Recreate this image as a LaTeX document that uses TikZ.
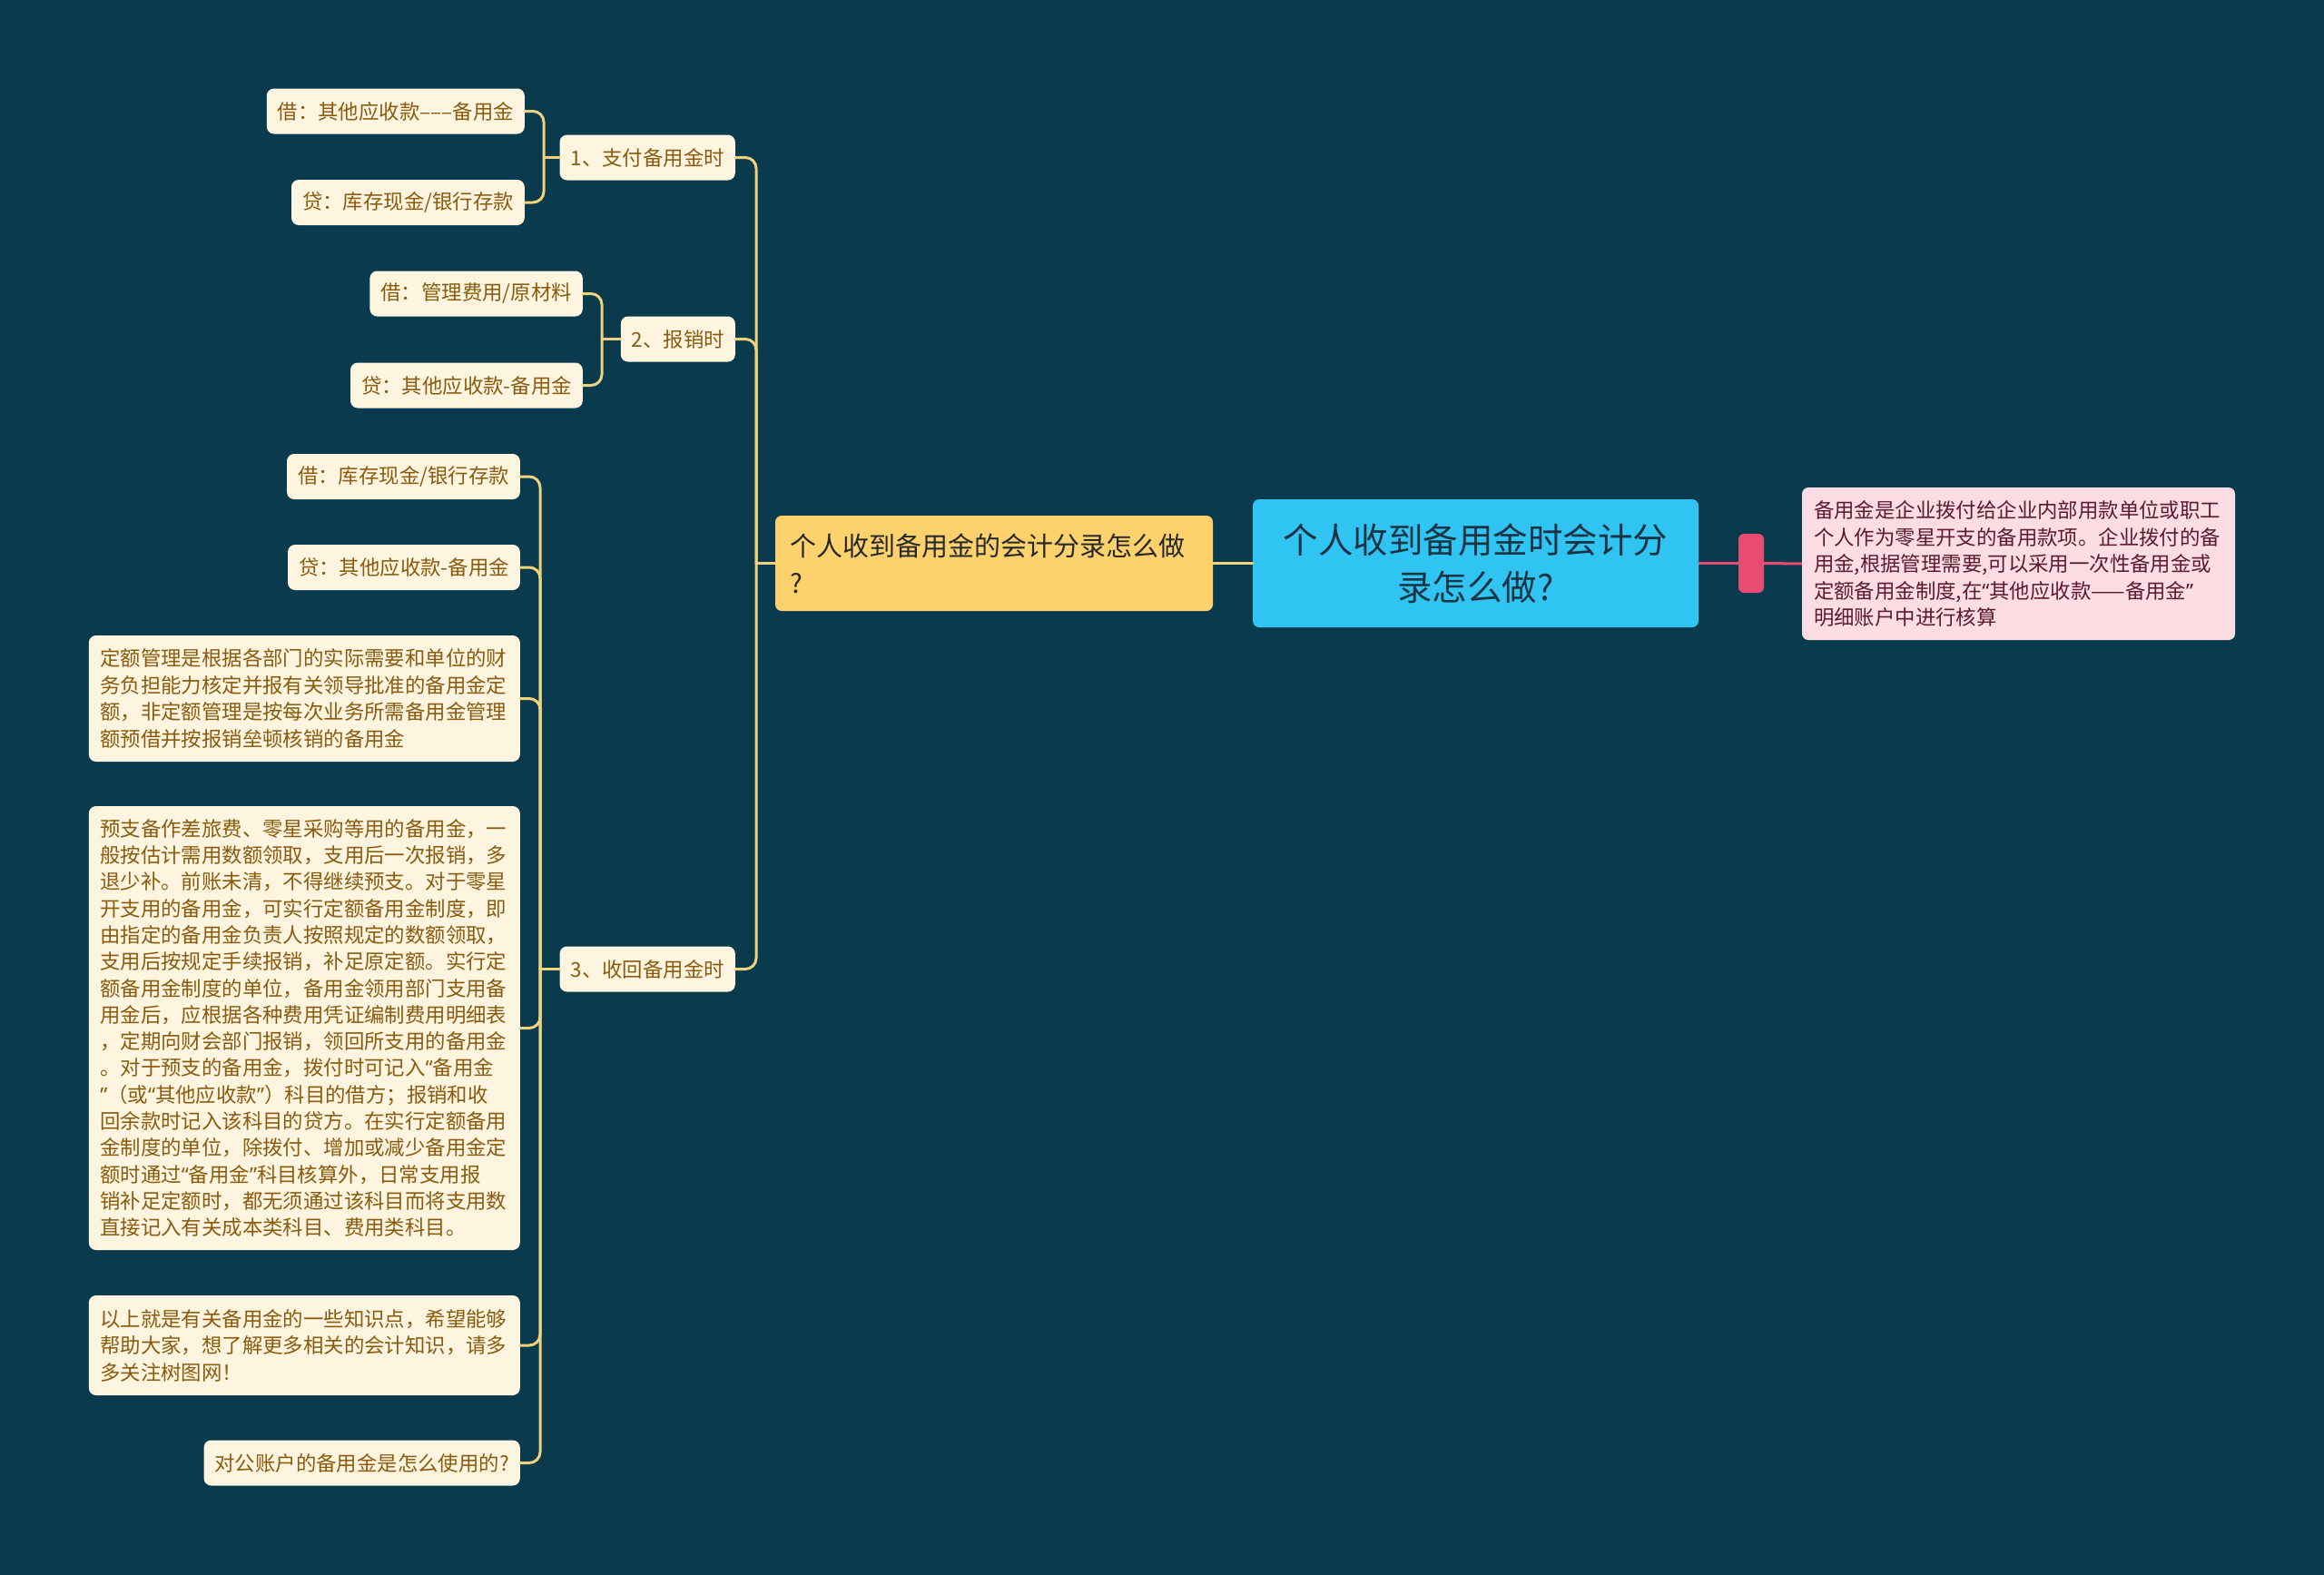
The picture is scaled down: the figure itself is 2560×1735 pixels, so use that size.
\documentclass[tikz,border=0pt]{standalone}
\usepackage{fontspec}
\setmainfont{Noto Sans CJK SC}
\newfontfamily\quotefont{Noto Sans}
\newcommand\oq{{\quotefont “}}
\newcommand\cq{{\quotefont ”}}
\definecolor{bg}{HTML}{0A3A4E}
\definecolor{cream}{HTML}{FEF5E0}
\definecolor{goldtext}{HTML}{8A5B0E}
\definecolor{linecol}{HTML}{EFD27C}
\definecolor{mainfill}{HTML}{FDD16B}
\definecolor{maintext}{HTML}{26292C}
\definecolor{rootfill}{HTML}{2FC4F2}
\definecolor{roottext}{HTML}{1A3444}
\definecolor{pinkline}{HTML}{E84C73}
\definecolor{notefill}{HTML}{FBDDE3}
\definecolor{notetext}{HTML}{5E1A2E}
\begin{document}
\begin{tikzpicture}[x=1pt,y=-1pt,
  leaf/.style={fill=cream, text=goldtext, rounded corners=8pt,
    font=\fontsize{22.4pt}{29.5pt}\selectfont, inner xsep=12pt, inner ysep=0pt,
    minimum height=50pt, anchor=east},
  block/.style={fill=cream, text=goldtext, rounded corners=8pt,
    font=\fontsize{22.4pt}{29.5pt}\selectfont, inner xsep=12.5pt, inner ysep=0pt,
    text width=450pt, align=left, anchor=east},
  conn/.style={draw=linecol, line width=3pt, line cap=round},
  curve/.style={conn, rounded corners=12pt},
]
\fill[bg] (0,0) rectangle (2560,1735);
\useasboundingbox (0,0) rectangle (2560,1735);

% root and right side
\node[fill=rootfill, text=roottext, rounded corners=7pt, minimum width=491pt, minimum height=141pt,
  align=center, font=\fontsize{38.5pt}{52pt}\selectfont, inner sep=0pt] (root) at (1625.5,620.5)
  {个人收到备用金时会计分\\录怎么做?};
\node[fill=pinkline, rounded corners=6pt, minimum width=28pt, minimum height=65pt, inner sep=0pt] (bar) at (1929,620.5) {};
\node[fill=notefill, text=notetext, rounded corners=7pt, minimum width=477pt, minimum height=168pt,
  text width=451pt, align=left, inner xsep=13pt, inner ysep=0pt,
  font=\fontsize{22.4pt}{29.5pt}\selectfont] (note) at (2223.5,621)
  {备用金是企业拨付给企业内部用款单位或职工\\个人作为零星开支的备用款项。企业拨付的备\\用金,根据管理需要,可以采用一次性备用金或\\定额备用金制度,在\oq 其他应收款——备用金\cq\\明细账户中进行核算};
\draw[draw=pinkline, line width=3pt] (root.east) -- (bar.west);
\draw[draw=pinkline, line width=3pt] (bar.east) -- (note.west);

% main branch
\node[fill=mainfill, text=maintext, rounded corners=7pt, minimum width=482pt, minimum height=105pt,
  text width=450pt, align=left, inner xsep=16pt, inner ysep=0pt,
  font=\fontsize{29pt}{41pt}\selectfont] (main) at (1095,620.5)
  {个人收到备用金的会计分录怎么做\\?};
\draw[conn] (main.east) -- (root.west);

% level 2
\node[leaf] (n1) at (810,173.5) {1、支付备用金时};
\node[leaf] (n2) at (810,373.5) {2、报销时};
\node[leaf] (n3) at (810,1067.5) {3、收回备用金时};

% level 3
\node[leaf] (c11) at (578,122.5) {借：其他应收款–––备用金};
\node[leaf] (c12) at (578,223) {贷：库存现金/银行存款};
\node[leaf] (c21) at (642,323.5) {借：管理费用/原材料};
\node[leaf] (c22) at (642,424.5) {贷：其他应收款-备用金};
\node[leaf] (c31) at (573,525) {借：库存现金/银行存款};
\node[leaf] (c32) at (573,625) {贷：其他应收款-备用金};
\node[block, minimum height=139pt] (c33) at (573,769.5)
  {定额管理是根据各部门的实际需要和单位的财\\务负担能力核定并报有关领导批准的备用金定\\额，非定额管理是按每次业务所需备用金管理\\额预借并按报销垒顿核销的备用金};
\node[block, minimum height=489pt, font=\fontsize{22.4pt}{29.3pt}\selectfont] (c34) at (573,1132.5)
  {预支备作差旅费、零星采购等用的备用金，一\\般按估计需用数额领取，支用后一次报销，多\\退少补。前账未清，不得继续预支。对于零星\\开支用的备用金，可实行定额备用金制度，即\\由指定的备用金负责人按照规定的数额领取，\\支用后按规定手续报销，补足原定额。实行定\\额备用金制度的单位，备用金领用部门支用备\\用金后，应根据各种费用凭证编制费用明细表\\，定期向财会部门报销，领回所支用的备用金\\。对于预支的备用金，拨付时可记入\oq 备用金\\\cq（或\oq 其他应收款\cq）科目的借方；报销和收\\回余款时记入该科目的贷方。在实行定额备用\\金制度的单位，除拨付、增加或减少备用金定\\额时通过\oq 备用金\cq 科目核算外，日常支用报\\销补足定额时，都无须通过该科目而将支用数\\直接记入有关成本类科目、费用类科目。};
\node[block, minimum height=110pt] (c35) at (573,1482)
  {以上就是有关备用金的一些知识点，希望能够\\帮助大家，想了解更多相关的会计知识，请多\\多关注树图网！};
\node[leaf] (c36) at (573,1611.5) {对公账户的备用金是怎么使用的?};

% buses
\coordinate (bm) at (833,620.5);
\coordinate (b1) at (599,173.5);
\coordinate (b2) at (663,373.5);
\coordinate (b3) at (595,1067.5);

\draw[conn] (main.west) -- (bm);
\foreach \n in {n1,n2,n3} \draw[curve] (bm) |- (\n.east);

\draw[conn] (n1.west) -- (b1);
\foreach \n in {c11,c12} \draw[curve] (b1) |- (\n.east);
\draw[conn] (n2.west) -- (b2);
\foreach \n in {c21,c22} \draw[curve] (b2) |- (\n.east);
\draw[conn] (n3.west) -- (b3);
\foreach \n in {c31,c32,c33,c34,c35,c36} \draw[curve] (b3) |- (\n.east);
\end{tikzpicture}
\end{document}
